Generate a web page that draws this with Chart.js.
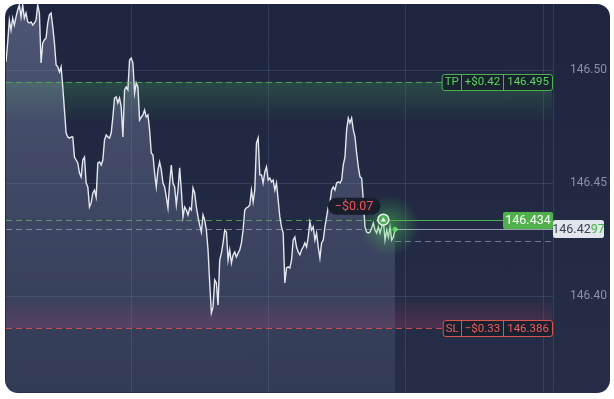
<!DOCTYPE html>
<html>
<head>
<meta charset="utf-8">
<script src="https://cdn.jsdelivr.net/npm/chart.js@4.4.0/dist/chart.umd.min.js"></script>
<style>
  html, body { margin: 0; padding: 0; background: #fff; }
  #panel {
    position: absolute; left: 5px; top: 4px; width: 605px; height: 389px;
    border-radius: 13px; overflow: hidden;
    background: linear-gradient(#1e263f, #262e47);
  }
  canvas { display: block; }
</style>
</head>
<body>
<div id="panel"><canvas id="chart" width="605" height="389"></canvas></div>
<script>
// price ticks, read left to right off the picture
const prices = [
  146.5038, 146.5122, 146.5223, 146.5179, 146.5232, 146.5201, 146.5237, 146.5268, 146.5290, 146.5237,
  146.5290, 146.5232, 146.5254, 146.5215, 146.5210, 146.5215, 146.5201, 146.5210, 146.5223, 146.5290,
  146.5254, 146.5033, 146.5122, 146.5135, 146.5144, 146.5210, 146.5246, 146.5254, 146.5193, 146.5122,
  146.5024, 146.5016, 146.4993, 146.5016, 146.4927, 146.4825, 146.4723, 146.4706, 146.4701, 146.4706,
  146.4706, 146.4617, 146.4604, 146.4591, 146.4546, 146.4529, 146.4604, 146.4617, 146.4502, 146.4485,
  146.4396, 146.4414, 146.4458, 146.4471, 146.4440, 146.4591, 146.4595, 146.4582, 146.4604, 146.4692,
  146.4715, 146.4706, 146.4701, 146.4723, 146.4794, 146.4878, 146.4883, 146.4856, 146.4878, 146.4839,
  146.4706, 146.4914, 146.4927, 146.4914,
  146.5046, 146.5055, 146.5033, 146.4900, 146.4945, 146.4927,
  146.4781, 146.4794, 146.4803, 146.4825, 146.4794, 146.4803, 146.4737, 146.4635, 146.4626, 146.4546,
  146.4485, 146.4560, 146.4595, 146.4560, 146.4502, 146.4485, 146.4440, 146.4392, 146.4502, 146.4582,
  146.4502, 146.4485, 146.4405, 146.4471, 146.4569, 146.4471, 146.4352, 146.4396, 146.4383, 146.4361,
  146.4392, 146.4383, 146.4480, 146.4458, 146.4396, 146.4352,
  146.4316, 146.4285, 146.4361, 146.4338, 146.4294, 146.4206, 146.4060, 146.3927, 146.3954, 146.4073,
  146.4060, 146.3962, 146.4161, 146.4192, 146.4237, 146.4294, 146.4285, 146.4161, 146.4206, 146.4148,
  146.4184, 146.4197, 146.4175, 146.4192, 146.4206, 146.4237, 146.4294, 146.4383, 146.4392, 146.4396,
  146.4405, 146.4471, 146.4418, 146.4471, 146.4679, 146.4701, 146.4538,
  146.4538, 146.4502, 146.4551, 146.4573, 146.4515, 146.4524, 146.4507, 146.4515, 146.4471, 146.4502,
  146.4427, 146.4352, 146.4308, 146.4281, 146.4060, 146.4126, 146.4131, 146.4126, 146.4161, 146.4250,
  146.4263, 146.4219, 146.4197, 146.4184, 146.4206, 146.4219, 146.4237, 146.4219, 146.4263, 146.4330,
  146.4294, 146.4308, 146.4250, 146.4281, 146.4219, 146.4170, 146.4237, 146.4250, 146.4308, 146.4352,
  146.4396, 146.4414, 146.4471, 146.4485, 146.4471, 146.4502, 146.4507, 146.4502, 146.4515, 146.4582,
  146.4617, 146.4737, 146.4790, 146.4768, 146.4790, 146.4737, 146.4706, 146.4635, 146.4573, 146.4529,
  146.4524, 146.4427, 146.4308, 146.4285, 146.4281, 146.4285, 146.4303, 146.4325, 146.4294, 146.4281,
  146.4308, 146.4281, 146.4308, 146.4338, 146.4250, 146.4294, 146.4263, 146.4308, 146.4250, 146.4263,
  146.4297
];

const yTicks = [146.40, 146.45, 146.50];
const xGridTicks = [75, 157.5, 239.2, 321.7];

const takeProfit = 146.495;
const takeProfitPnl = '+$0.42';
const stopLoss = 146.386;
const stopLossPnl = '\u2212$0.33';
const entryPrice = 146.434;
const entryIndex = 226;
const entryPnl = '\u2212$0.07';
const currentPrice = 146.4297;
const lowerRef = 146.4245;

const green = '#4caf50';
const greenText = '#5fd35f';
const red = '#d9534f';
const redText = '#ec5f5f';
const gridColor = 'rgba(130,140,185,0.2)';
const FONT = 'Roboto, "Noto Sans", sans-serif';

function roundRect(ctx, x, y, w, h, r) {
  ctx.beginPath();
  ctx.moveTo(x + r, y);
  ctx.arcTo(x + w, y, x + w, y + h, r);
  ctx.arcTo(x + w, y + h, x, y + h, r);
  ctx.arcTo(x, y + h, x, y, r);
  ctx.arcTo(x, y, x + w, y, r);
  ctx.closePath();
}

function hline(ctx, y, x0, x1, color, dash) {
  const yy = Math.round(y) + 0.5;
  ctx.beginPath();
  ctx.setLineDash(dash);
  ctx.strokeStyle = color;
  ctx.lineWidth = 1;
  ctx.moveTo(x0, yy);
  ctx.lineTo(x1, yy);
  ctx.stroke();
  ctx.setLineDash([]);
}

// TP / SL box: three cells, right aligned
function orderBox(ctx, right, cy, parts, stroke, textColor) {
  ctx.font = '11.5px ' + FONT;
  const widths = parts.map((p, i) => ctx.measureText(p).width + (i === 0 ? 5 : 7));
  const total = widths.reduce((a, b) => a + b, 0);
  const h = 16;
  const left = right - total;
  const top = Math.round(cy - h / 2) + 0.5;
  roundRect(ctx, left + 0.5, top, total, h, 2.5);
  ctx.fillStyle = 'rgba(24,31,46,0.92)';
  ctx.fill();
  ctx.strokeStyle = stroke;
  ctx.lineWidth = 1;
  ctx.stroke();
  let x = left;
  ctx.fillStyle = textColor;
  ctx.textBaseline = 'middle';
  ctx.textAlign = 'center';
  parts.forEach((p, i) => {
    ctx.fillText(p, x + widths[i] / 2 + 0.5, cy + 0.5);
    x += widths[i];
    if (i < parts.length - 1) {
      ctx.beginPath();
      ctx.moveTo(Math.round(x) + 0.5, top);
      ctx.lineTo(Math.round(x) + 0.5, top + h);
      ctx.stroke();
    }
  });
  return left;
}

const overlay = {
  id: 'overlay',
  beforeDatasetsDraw(chart) {
    const { ctx, chartArea: a, scales: { x, y } } = chart;
    ctx.save();
    const tpY = y.getPixelForValue(takeProfit);
    let g = ctx.createLinearGradient(0, tpY, 0, tpY + 40);
    g.addColorStop(0, 'rgba(70,175,85,0.26)');
    g.addColorStop(1, 'rgba(70,175,85,0)');
    ctx.fillStyle = g;
    ctx.fillRect(a.left, tpY, a.right - a.left - 1, 40);

    const slY = y.getPixelForValue(stopLoss);
    g = ctx.createLinearGradient(0, slY - 32, 0, slY);
    g.addColorStop(0, 'rgba(190,60,110,0)');
    g.addColorStop(1, 'rgba(190,60,110,0.28)');
    ctx.fillStyle = g;
    ctx.fillRect(a.left, slY - 32, a.right - a.left - 1, 32);

    const lastX = x.getPixelForValue(prices.length - 1);
    const entryX = x.getPixelForValue(entryIndex);
    hline(ctx, y.getPixelForValue(currentPrice), a.left, lastX, 'rgba(190,196,215,0.55)', [6, 4]);
    hline(ctx, y.getPixelForValue(entryPrice), a.left, entryX, 'rgba(76,175,80,0.85)', [6, 4]);
    ctx.restore();
  },
  afterDatasetsDraw(chart) {
    const { ctx, chartArea: a, scales: { x, y } } = chart;
    ctx.save();
    const right = a.right - 1;
    const lastX = x.getPixelForValue(prices.length - 1);
    const lastY = y.getPixelForValue(currentPrice);
    const entryX = x.getPixelForValue(entryIndex);
    const entryY = y.getPixelForValue(entryPrice);

    // glow round the latest ticks
    const glow = ctx.createRadialGradient(entryX + 6, entryY + 6, 0, entryX + 6, entryY + 6, 30);
    glow.addColorStop(0, 'rgba(80,220,90,0.45)');
    glow.addColorStop(1, 'rgba(80,220,90,0)');
    ctx.fillStyle = glow;
    ctx.fillRect(entryX - 30, entryY - 30, 72, 72);

    // TP
    const tpY = y.getPixelForValue(takeProfit);
    ctx.font = '11.5px ' + FONT;
    const tpLeft = right - 102;
    hline(ctx, tpY, a.left, tpLeft, 'rgba(76,175,80,0.85)', [6, 4]);
    orderBox(ctx, right, tpY, ['TP', takeProfitPnl, takeProfit.toFixed(3)], green, greenText);

    // SL
    const slY = y.getPixelForValue(stopLoss);
    const slLeft = right - 103;
    hline(ctx, slY, a.left, slLeft, 'rgba(217,83,79,0.9)', [6, 4]);
    orderBox(ctx, right, slY, ['SL', stopLossPnl, stopLoss.toFixed(3)], red, redText);

    // entry line + label
    const entryLabelW = 50;
    hline(ctx, entryY, entryX, a.right - entryLabelW, green, []);
    roundRect(ctx, a.right - entryLabelW, Math.round(entryY) - 8, entryLabelW, 17, 2);
    ctx.fillStyle = '#4fb04c';
    ctx.fill();
    ctx.font = '12.5px ' + FONT;
    ctx.fillStyle = '#ffffff';
    ctx.textAlign = 'center';
    ctx.textBaseline = 'middle';
    ctx.fillText(entryPrice.toFixed(3), a.right - entryLabelW / 2, Math.round(entryY) + 1);

    // current price lines
    hline(ctx, lastY, lastX, a.right, 'rgba(200,205,222,0.7)', []);
    hline(ctx, y.getPixelForValue(lowerRef), lastX, a.right, 'rgba(190,196,215,0.5)', [6, 4]);

    // current price box on the axis
    const boxX = a.right, boxW = 51, boxH = 18;
    const boxTop = Math.round(lastY) - 9;
    roundRect(ctx, boxX, boxTop, boxW, boxH, 2.5);
    ctx.fillStyle = '#e2e5eb';
    ctx.fill();
    const txt = currentPrice.toFixed(4);
    const head = txt.slice(0, 6), tail = txt.slice(6);
    ctx.font = '12.5px ' + FONT;
    ctx.textAlign = 'left';
    const tw = ctx.measureText(txt).width;
    let tx = boxX + (boxW - tw) / 2;
    ctx.fillStyle = '#3a4052';
    ctx.fillText(head, tx, boxTop + boxH / 2 + 1);
    tx += ctx.measureText(head).width;
    ctx.fillStyle = '#45b845';
    ctx.fillText(tail, tx, boxTop + boxH / 2 + 1);

    // pnl pill
    ctx.font = '12.5px ' + FONT;
    const pw = ctx.measureText(entryPnl).width + 14;
    const pillRight = entryX - 3;
    const pillY = entryY - 22;
    roundRect(ctx, pillRight - pw, pillY, pw, 17, 8.5);
    ctx.fillStyle = '#191e2c';
    ctx.fill();
    ctx.fillStyle = '#f05555';
    ctx.textAlign = 'center';
    ctx.fillText(entryPnl, pillRight - pw / 2, pillY + 9);

    // entry marker
    ctx.beginPath();
    ctx.arc(entryX, entryY, 5.5, 0, Math.PI * 2);
    ctx.fillStyle = green;
    ctx.fill();
    ctx.lineWidth = 1.5;
    ctx.strokeStyle = '#f2f4f7';
    ctx.stroke();
    ctx.beginPath();
    ctx.moveTo(entryX, entryY - 2.5);
    ctx.lineTo(entryX + 2.6, entryY + 1.8);
    ctx.lineTo(entryX - 2.6, entryY + 1.8);
    ctx.closePath();
    ctx.fillStyle = '#ffffff';
    ctx.fill();
    ctx.restore();
  }
};

const points = prices.map((p, i) => ({ x: i, y: p }));

new Chart(document.getElementById('chart'), {
  type: 'line',
  data: {
    datasets: [{
      data: points,
      borderColor: '#e4e7ee',
      borderWidth: 1.4,
      tension: 0,
      fill: 'start',
      backgroundColor: (c) => {
        const area = c.chart.chartArea;
        if (!area) return 'rgba(150,158,190,0.25)';
        const g = c.chart.ctx.createLinearGradient(0, area.top, 0, area.bottom);
        g.addColorStop(0, 'rgba(150,160,195,0.40)');
        g.addColorStop(1, 'rgba(130,140,180,0.14)');
        return g;
      },
      pointRadius: (c) => c.dataIndex === prices.length - 1 ? 2.5 : 0,
      pointBackgroundColor: greenText,
      pointBorderWidth: 0
    }]
  },
  options: {
    responsive: false,
    animation: false,
    layout: { autoPadding: false, padding: { left: 1, top: 0, right: 0, bottom: 1 } },
    plugins: { legend: { display: false }, tooltip: { enabled: false } },
    scales: {
      x: {
        type: 'linear',
        min: 0,
        max: 327.6,
        afterBuildTicks: (s) => { s.ticks = xGridTicks.map(v => ({ value: v })); },
        afterFit: (s) => { s.height = 0; s.paddingLeft = 0; s.paddingRight = 0; },
        grid: { color: gridColor, drawTicks: false },
        border: { display: false },
        ticks: { display: false }
      },
      y: {
        position: 'right',
        min: 146.35774,
        max: 146.52942,
        afterBuildTicks: (s) => { s.ticks = yTicks.map(v => ({ value: v })); },
        afterFit: (s) => { s.width = 57; s.paddingTop = 0; s.paddingBottom = 0; },
        grid: { color: gridColor, drawTicks: false },
        border: { display: true, color: gridColor },
        ticks: {
          color: '#8a91a6',
          padding: 17,
          font: { family: FONT, size: 12 },
          callback: (v) => Number(v).toFixed(2)
        }
      }
    }
  },
  plugins: [overlay]
});
</script>
</body>
</html>
